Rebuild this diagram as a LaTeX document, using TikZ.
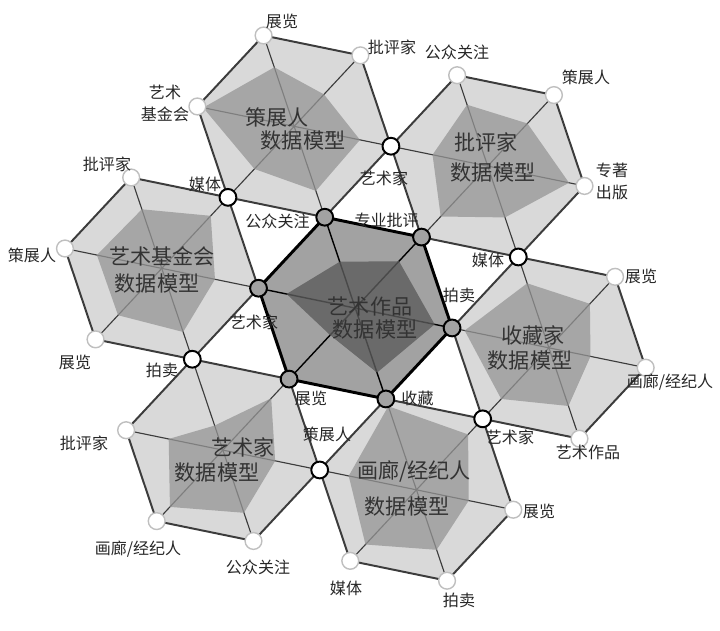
\documentclass[tikz,border=0pt]{standalone}
\usepackage{fontspec}
\setmainfont{Noto Sans CJK SC}
\usepackage{tikz}

\definecolor{hexlight}{HTML}{D9D9D9}
\definecolor{hexdata}{HTML}{959595}
\definecolor{hexmid}{HTML}{A2A2A2}
\definecolor{hexdark}{HTML}{5C5C5C}
\definecolor{edgegray}{HTML}{3C3C3C}

\tikzset{
	spoke/.style={draw=edgegray, line width=0.8pt},
	rim/.style={draw=edgegray, line width=1.4pt, line join=round},
	centerpt/.style={circle, draw=black, line width=1.4pt, fill=hexmid, minimum size=0.42cm, inner sep=0pt},
	sharedpt/.style={circle, draw=black, line width=1.4pt, fill=white, minimum size=0.42cm, inner sep=0pt},
	freept/.style={circle, draw=black!25, line width=1pt, fill=white, minimum size=0.42cm, inner sep=0pt},
	lbl/.style={inner sep=0pt, text=black!85, font=\fontsize{11.4}{15.6}\selectfont, align=center},
	title/.style={inner sep=0pt, text=black!80, font=\fontsize{15}{18}\selectfont}
}

\begin{document}
\begin{tikzpicture}[x=0.025cm,y=0.025cm]

	\useasboundingbox (0,0) rectangle (720,630);

	\begin{scope}[shift={(355.3,321.9)},xscale=1.02,yscale=0.985]

		\foreach \k/\a/\p/\q/\r/\s/\t/\u in {1/108/.65/.45/.68/.71/.60/.94, 2/48/.675/.60/.84/.565/.71/.57, 3/-12/.71/.62/.43/.64/.72/.87, 4/-72/.92/.78/.54/.66/.77/.70, 5/-132/.27/.73/.54/.69/.80/.56, 6/168/.65/.74/.55/.70/.66/.67} {
			\begin{scope}[shift={(\a:194)}]
				\fill[hexlight] (108:97) -- (48:97) -- (-12:97) -- (-72:97) -- (-132:97) -- (168:97) -- cycle;
				\foreach \b in {108,48,...,-192} {
					\draw[spoke] (0,0) -- (\b:97);
				}
				\fill[hexdata, fill opacity=.75] (108:{\p*97}) -- (48:{\q*97}) -- (-12:{\r*97}) -- (-72:{\s*97}) -- (-132:{\t*97}) -- (168:{\u*97}) -- cycle;
				\draw[rim] (108:97) -- (48:97) -- (-12:97) -- (-72:97) -- (-132:97) -- (168:97) -- cycle;
				\coordinate (f\k a) at ({\a+60}:97);
				\coordinate (f\k b) at (\a:97);
				\coordinate (f\k c) at ({\a-60}:97);
				\coordinate (s\k) at ({\a-120}:97);
			\end{scope}
		}

		\fill[hexmid] (108:97) -- (48:97) -- (-12:97) -- (-72:97) -- (-132:97) -- (168:97) -- cycle;
		\foreach \b in {108,48,...,-192} {
			\draw[spoke, draw=black, line width=1pt] (0,0) -- (\b:97);
		}
		\fill[hexdark, fill opacity=.8] (108:{.51*97}) -- (48:{.66*97}) -- (-12:{.82*97}) -- (-72:{.71*97}) -- (-132:{.38*97}) -- (168:{.71*97}) -- cycle;
		\draw[rim, draw=black, line width=2.1pt] (108:97) -- (48:97) -- (-12:97) -- (-72:97) -- (-132:97) -- (168:97) -- cycle;
		\foreach \i/\b in {1/108, 2/48, 3/-12, 4/-72, 5/-132, 6/168} {
			\coordinate (c\i) at (\b:97);
		}

	\end{scope}

	\foreach \k in {1,...,6} {
		\node[freept] at (f\k a) {};
		\node[freept] at (f\k b) {};
		\node[freept] at (f\k c) {};
		\node[sharedpt] at (s\k) {};
		\node[centerpt] at (c\k) {};
	}

	\node[lbl] (lc1) at (277.5,408.3) {公众关注};
	\node[lbl] (lc2) at (386.7,410) {专业批评};
	\node[lbl] (lc3) at (459,335) {拍卖};
	\node[lbl] (lc4) at (417.5,232) {收藏};
	\node[lbl] (lc5) at (311,232) {展览};
	\node[lbl] (lc6) at (254,307.5) {艺术家};

	\node[lbl] (ls1) at (384,452) {艺术家};
	\node[lbl] (ls2) at (488,370) {媒体};
	\node[lbl] (ls3) at (510,193) {艺术家};
	\node[lbl] (ls4) at (327,196) {策展人};
	\node[lbl] (ls5) at (162,260) {拍卖};
	\node[lbl] (ls6) at (205,446) {媒体};

	\node[lbl] (lf1a) at (165,527) {艺术\\基金会};
	\node[lbl] (lf1b) at (282,609) {展览};
	\node[lbl] (lf1c) at (392,583) {批评家};
	\node[lbl] (lf2a) at (457,578) {公众关注};
	\node[lbl] (lf2b) at (586,553) {策展人};
	\node[lbl] (lf2c) at (612,449) {专著\\出版};
	\node[lbl] (lf3a) at (641,354) {展览};
	\node[lbl] (lf3b) at (670,248) {画廊/经纪人};
	\node[lbl] (lf3c) at (588,178) {艺术作品};
	\node[lbl] (lf4a) at (539,119) {展览};
	\node[lbl] (lf4b) at (459,30) {拍卖};
	\node[lbl] (lf4c) at (346,42) {媒体};
	\node[lbl] (lf5a) at (258,63) {公众关注};
	\node[lbl] (lf5b) at (138,81) {画廊/经纪人};
	\node[lbl] (lf5c) at (84,187) {批评家};
	\node[lbl] (lf6a) at (75,268) {展览};
	\node[lbl] (lf6b) at (32,375) {策展人};
	\node[lbl] (lf6c) at (107,466) {批评家};

	\node[title] (t0a) at (370,324) {艺术作品};
	\node[title] (t0b) at (375,300) {数据模型};
	\node[title] (t1a) at (277,513) {策展人};
	\node[title] (t1b) at (303,489) {数据模型};
	\node[title] (t2a) at (486,488) {批评家};
	\node[title] (t2b) at (493,457) {数据模型};
	\node[title] (t3a) at (533,295) {收藏家};
	\node[title] (t3b) at (530,269) {数据模型};
	\node[title] (t4a) at (414,159) {画廊/经纪人};
	\node[title] (t4b) at (407,123) {数据模型};
	\node[title] (t5a) at (243,183) {艺术家};
	\node[title] (t5b) at (217,157) {数据模型};
	\node[title] (t6a) at (162,374) {艺术基金会};
	\node[title] (t6b) at (157,346) {数据模型};

\end{tikzpicture}
\end{document}
